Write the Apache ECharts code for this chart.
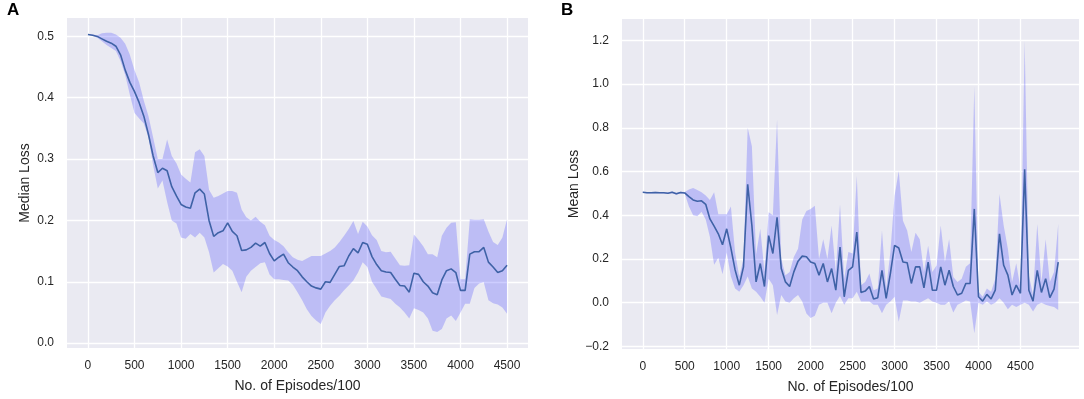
<!DOCTYPE html>
<html>
<head>
<meta charset="utf-8">
<script src="https://cdn.jsdelivr.net/npm/echarts@6/dist/echarts.min.js"></script>
<style>
  html, body { margin: 0; padding: 0; background: #ffffff; }
  #chart { width: 1084px; height: 399px; }
</style>
</head>
<body>
<div id="chart"></div>
<script>
// panel A: median loss, one point every 50 (x 0..4500)
const medianA = [0.503, 0.502, 0.500, 0.496, 0.492, 0.489, 0.484, 0.470, 0.445, 0.425,
  0.410, 0.392, 0.370, 0.340, 0.305, 0.278, 0.285, 0.281, 0.255, 0.240,
  0.226, 0.222, 0.220, 0.245, 0.251, 0.243, 0.200, 0.174, 0.180, 0.183,
  0.196, 0.182, 0.175, 0.151, 0.152, 0.156, 0.163, 0.158, 0.164, 0.146,
  0.134, 0.140, 0.145, 0.131, 0.124, 0.118, 0.108, 0.100, 0.093, 0.090,
  0.088, 0.100, 0.099, 0.112, 0.125, 0.126, 0.142, 0.154, 0.147, 0.164,
  0.161, 0.141, 0.128, 0.118, 0.116, 0.115, 0.104, 0.094, 0.093, 0.083,
  0.114, 0.112, 0.100, 0.093, 0.082, 0.079, 0.103, 0.118, 0.121, 0.115,
  0.086, 0.086, 0.145, 0.149, 0.149, 0.156, 0.132, 0.124, 0.115, 0.118,
  0.127];
const lowA = [0.503, 0.501, 0.498, 0.492, 0.486, 0.481, 0.476, 0.460, 0.437, 0.405,
  0.375, 0.366, 0.358, 0.335, 0.290, 0.252, 0.265, 0.230, 0.200, 0.195,
  0.172, 0.170, 0.178, 0.172, 0.180, 0.172, 0.148, 0.115, 0.122, 0.129,
  0.125, 0.118, 0.100, 0.083, 0.108, 0.118, 0.124, 0.130, 0.132, 0.112,
  0.104, 0.104, 0.103, 0.102, 0.095, 0.083, 0.070, 0.055, 0.044, 0.037,
  0.031, 0.050, 0.061, 0.070, 0.077, 0.086, 0.094, 0.102, 0.115, 0.132,
  0.124, 0.100, 0.088, 0.076, 0.074, 0.072, 0.064, 0.058, 0.050, 0.040,
  0.057, 0.054, 0.050, 0.040, 0.020, 0.018, 0.023, 0.040, 0.045, 0.036,
  0.050, 0.064, 0.064, 0.090, 0.097, 0.099, 0.070, 0.065, 0.063, 0.058,
  0.048];
const highA = [0.503, 0.503, 0.502, 0.505, 0.506, 0.506, 0.503, 0.498, 0.488, 0.470,
  0.445, 0.425, 0.395, 0.370, 0.335, 0.300, 0.300, 0.332, 0.305, 0.293,
  0.275, 0.268, 0.262, 0.311, 0.316, 0.305, 0.250, 0.237, 0.240, 0.244,
  0.248, 0.248, 0.245, 0.218, 0.205, 0.200, 0.206, 0.198, 0.192, 0.175,
  0.168, 0.164, 0.158, 0.148, 0.140, 0.136, 0.134, 0.138, 0.142, 0.142,
  0.142, 0.146, 0.150, 0.156, 0.165, 0.175, 0.186, 0.199, 0.178, 0.198,
  0.190, 0.176, 0.168, 0.150, 0.148, 0.149, 0.138, 0.127, 0.126, 0.127,
  0.177, 0.168, 0.158, 0.145, 0.145, 0.140, 0.175, 0.188, 0.196, 0.197,
  0.104, 0.104, 0.202, 0.201, 0.201, 0.202, 0.182, 0.165, 0.160, 0.172,
  0.202];

// panel B: mean loss, one point every 50 (x 0..4950)
const meanB = [0.505, 0.503, 0.503, 0.504, 0.503, 0.503, 0.501, 0.505, 0.498, 0.504,
  0.502, 0.485, 0.470, 0.464, 0.466, 0.450, 0.383, 0.350, 0.315, 0.265,
  0.338, 0.250, 0.150, 0.080, 0.164, 0.542, 0.353, 0.095, 0.179, 0.074,
  0.307, 0.225, 0.391, 0.156, 0.095, 0.074, 0.141, 0.190, 0.213, 0.210,
  0.186, 0.179, 0.126, 0.179, 0.095, 0.156, 0.057, 0.254, 0.027, 0.148,
  0.164, 0.323, 0.047, 0.053, 0.074, 0.017, 0.023, 0.148, 0.020, 0.133,
  0.262, 0.250, 0.186, 0.183, 0.088, 0.164, 0.164, 0.068, 0.186, 0.057,
  0.057, 0.164, 0.080, 0.148, 0.074, 0.035, 0.043, 0.088, 0.088, 0.429,
  0.027, 0.007, 0.038, 0.017, 0.057, 0.315, 0.171, 0.126, 0.035, 0.080,
  0.043, 0.610, 0.057, 0.007, 0.148, 0.047, 0.110, 0.023, 0.062, 0.186];
const lowB = [0.503, 0.500, 0.500, 0.501, 0.500, 0.500, 0.498, 0.501, 0.494, 0.500,
  0.498, 0.440, 0.400, 0.395, 0.416, 0.380, 0.300, 0.174, 0.205, 0.130,
  0.230, 0.120, 0.065, 0.050, 0.080, 0.120, 0.065, 0.050, 0.027, 0.000,
  0.110, 0.080, -0.056, 0.035, 0.005, 0.000, 0.020, 0.035, 0.005, -0.050,
  -0.070, -0.060, -0.010, 0.000, 0.000, -0.048, 0.000, 0.030, -0.010, 0.020,
  0.020, 0.050, 0.005, 0.005, 0.005, -0.010, -0.010, -0.048, -0.010, 0.005,
  0.027, -0.087, 0.010, 0.010, 0.005, 0.005, 0.000, 0.010, 0.020, 0.005,
  0.000, -0.010, -0.010, 0.005, -0.045, -0.010, 0.000, 0.010, 0.005, -0.140,
  0.000, -0.010, 0.005, -0.010, 0.000, 0.020, 0.000, -0.030, -0.010, -0.020,
  -0.010, 0.000, -0.010, -0.040, -0.010, 0.000, -0.010, -0.015, -0.020, -0.034];
const highB = [0.507, 0.506, 0.506, 0.507, 0.506, 0.506, 0.504, 0.509, 0.502, 0.508,
  0.506, 0.518, 0.525, 0.515, 0.505, 0.490, 0.470, 0.505, 0.405, 0.405,
  0.405, 0.440, 0.230, 0.120, 0.200, 0.800, 0.716, 0.220, 0.338, 0.141,
  0.414, 0.400, 0.838, 0.200, 0.126, 0.140, 0.209, 0.247, 0.380, 0.420,
  0.429, 0.444, 0.200, 0.290, 0.200, 0.353, 0.140, 0.450, 0.110, 0.232,
  0.225, 0.580, 0.080, 0.095, 0.133, 0.057, 0.065, 0.330, 0.065, 0.232,
  0.489, 0.603, 0.375, 0.330, 0.232, 0.320, 0.290, 0.140, 0.260, 0.140,
  0.170, 0.353, 0.186, 0.290, 0.118, 0.095, 0.110, 0.164, 0.180, 0.989,
  0.050, 0.027, 0.065, 0.050, 0.110, 0.497, 0.353, 0.247, 0.095, 0.180,
  0.065, 1.200, 0.126, 0.035, 0.360, 0.095, 0.290, 0.095, 0.140, 0.360];

const ticksX = [0, 500, 1000, 1500, 2000, 2500, 3000, 3500, 4000, 4500];
const ticksYA = [0, 0.1, 0.2, 0.3, 0.4, 0.5];
const ticksYB = [-0.2, 0, 0.2, 0.4, 0.6, 0.8, 1.0, 1.2];

const STEP = 50;
const episodes = (n) => Array.from({ length: n }, (_, i) => i * STEP);
const xA = episodes(medianA.length);
const xB = episodes(meanB.length);
const pairs = (xs, ys) => xs.map((x, i) => [x, ys[i]]);

const txt = '#262626';
const font = "'Liberation Sans', Arial, sans-serif";
const fmtY = (v) => (v < 0 ? '\u2212' : '') + Math.abs(v).toFixed(1);

function xAxisOf(gridIndex, min, max) {
  return {
    type: 'value', gridIndex, min, max,
    name: 'No. of Episodes/100', nameLocation: 'middle', nameGap: 31,
    nameTextStyle: { color: txt, fontSize: 14, fontFamily: font },
    axisLine: { show: false },
    axisTick: { show: false, customValues: ticksX },
    axisLabel: { customValues: ticksX, formatter: (v) => String(v), color: txt, fontSize: 12, fontFamily: font, margin: 12 },
    splitLine: { show: true, lineStyle: { color: '#ffffff', width: 1.3 } }
  };
}
function yAxisOf(gridIndex, min, max, ticks, name, gap) {
  return {
    type: 'value', gridIndex, min, max,
    name, nameLocation: 'middle', nameGap: gap,
    nameTextStyle: { color: txt, fontSize: 14, fontFamily: font },
    axisLine: { show: false },
    axisTick: { show: false, customValues: ticks },
    axisLabel: { customValues: ticks, formatter: fmtY, color: txt, fontSize: 12, fontFamily: font, margin: 13 },
    splitLine: { show: true, lineStyle: { color: '#ffffff', width: 1.3 } }
  };
}
// shaded band: one polygon through the high values and back along the low values
function bandSeries(idx, xs, lo, hi) {
  return {
    type: 'custom', xAxisIndex: idx, yAxisIndex: idx, silent: true, z: 2,
    data: xs.map((x, i) => [x, lo[i], hi[i]]),
    encode: { x: 0, y: [1, 2] },
    renderItem(params, api) {
      if (params.dataIndex !== 0) return;
      const top = xs.map((x, i) => api.coord([x, hi[i]]));
      const bottom = xs.map((x, i) => api.coord([x, lo[i]])).reverse();
      return {
        type: 'polygon',
        shape: { points: top.concat(bottom) },
        style: { fill: 'rgba(70, 70, 255, 0.27)' }
      };
    }
  };
}
function meanSeries(idx, xs, ys) {
  return { type: 'line', xAxisIndex: idx, yAxisIndex: idx, data: pairs(xs, ys),
    symbol: 'none', lineStyle: { color: '#3f62a6', width: 1.6 }, z: 5 };
}

const chart = echarts.init(document.getElementById('chart'));
chart.setOption({
  animation: false,
  backgroundColor: '#ffffff',
  title: [
    { text: 'A', left: 7, top: 2, padding: 0, textStyle: { fontSize: 17, fontWeight: 'bold', color: '#000', fontFamily: font } },
    { text: 'B', left: 561, top: 2, padding: 0, textStyle: { fontSize: 17, fontWeight: 'bold', color: '#000', fontFamily: font } }
  ],
  grid: [
    { left: 67, right: 556, top: 18, bottom: 51, show: true, backgroundColor: '#eaeaf2', borderWidth: 0 },
    { left: 622, right: 5, top: 19, bottom: 48, show: true, backgroundColor: '#eaeaf2', borderWidth: 0 }
  ],
  xAxis: [xAxisOf(0, -225, 4725), xAxisOf(1, -247.5, 5197.5)],
  yAxis: [
    yAxisOf(0, -0.008, 0.53, ticksYA, 'Median Loss', 35),
    yAxisOf(1, -0.212, 1.298, ticksYB, 'Mean Loss', 39)
  ],
  series: [
    bandSeries(0, xA, lowA, highA),
    meanSeries(0, xA, medianA),
    bandSeries(1, xB, lowB, highB),
    meanSeries(1, xB, meanB)
  ]
});
</script>
</body>
</html>
